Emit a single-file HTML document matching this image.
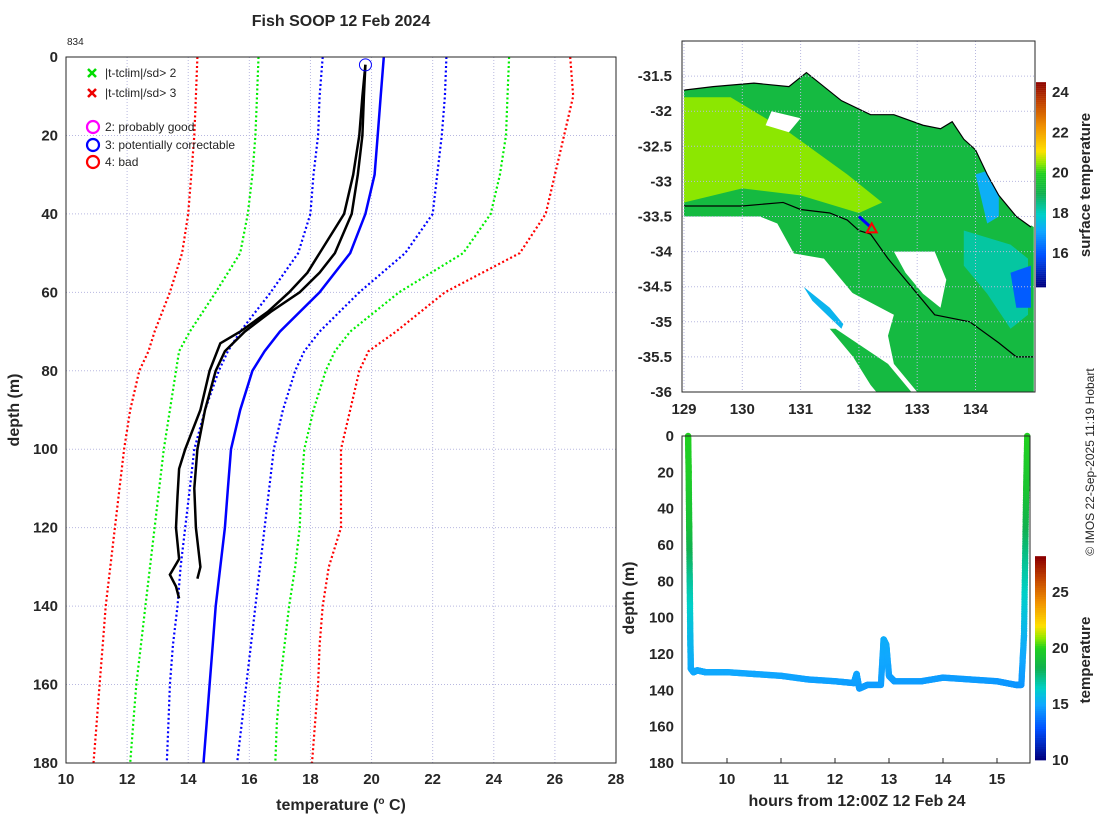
<!DOCTYPE html>
<html><head><meta charset="utf-8"><style>
body{margin:0;background:#fff}
svg text{font-family:"Liberation Sans",sans-serif;fill:#262626}
.b{font-weight:bold;font-size:15px}
</style></head><body>
<svg id="s" width="1100" height="820" xmlns="http://www.w3.org/2000/svg">
<rect width="1100" height="820" fill="#fff"/>
<text x="341" y="26" text-anchor="middle" font-weight="bold" font-size="16">Fish SOOP 12 Feb 2024</text>
<text x="67" y="45" font-size="10">834</text>
<g id="main"></g>
<g id="map"></g>
<g id="sect"></g>
<text transform="translate(1094,462) rotate(-90)" text-anchor="middle" font-size="12">© IMOS 22-Sep-2025 11:19 Hobart</text>
</svg>
<script>
const depths=[0,10,20,30,40,50,60,70,75,80,90,100,110,120,130,140,150,160,170,180];
const red3L=[14.3,14.25,14.2,14.1,14.0,13.8,13.4,12.9,12.7,12.4,12.1,11.9,11.75,11.6,11.45,11.3,11.2,11.1,11.0,10.9];
const grn2L=[16.3,16.25,16.2,16.1,15.95,15.7,14.9,14.05,13.7,13.6,13.4,13.2,13.05,12.9,12.75,12.6,12.45,12.3,12.2,12.1];
const blu1L=[18.4,18.3,18.25,18.1,18.0,17.6,16.7,15.7,15.3,15.0,14.55,14.2,14.05,13.9,13.75,13.65,13.5,13.4,13.35,13.3];
const meanT=[20.4,20.3,20.2,20.1,19.8,19.3,18.3,17.0,16.5,16.1,15.7,15.4,15.3,15.2,15.05,14.9,14.8,14.7,14.6,14.5];
const blu1R=[22.45,22.4,22.3,22.15,22.0,21.1,19.6,18.3,17.8,17.5,17.1,16.8,16.65,16.5,16.35,16.2,16.05,15.9,15.75,15.6];
const grn2R=[24.5,24.45,24.4,24.2,23.9,23.0,20.9,19.3,18.8,18.5,18.1,17.8,17.7,17.65,17.5,17.3,17.15,17.0,16.9,16.85];
const red3R=[26.5,26.6,26.3,26.0,25.7,24.85,22.4,20.8,19.9,19.6,19.3,19.0,19.0,19.0,18.6,18.4,18.3,18.25,18.15,18.05];
const castDownD=[2,10,20,30,40,50,55,60,65,70,75,80,90,100,110,120,130,133];
const castDownT=[19.8,19.75,19.7,19.55,19.35,18.8,18.3,17.65,16.7,15.85,15.2,14.9,14.55,14.3,14.2,14.25,14.4,14.3];
const castUpD=[2,10,20,30,40,50,55,60,65,70,73,80,90,100,105,112,120,128,132,135,138];
const castUpT=[19.8,19.7,19.6,19.4,19.1,18.3,17.9,17.3,16.6,15.7,15.05,14.7,14.4,13.9,13.7,13.65,13.6,13.7,13.4,13.6,13.7];
const xTicks=[10,12,14,16,18,20,22,24,26,28];
const yTicks=[0,20,40,60,80,100,120,140,160,180];
const NS='http://www.w3.org/2000/svg';
function mk(p,t,a){const e=document.createElementNS(NS,t);for(const k in a)e.setAttribute(k,a[k]);p.appendChild(e);return e;}
const X=t=>66+(t-10)*550/18, Y=d=>57+d*706/180;
const M=document.getElementById('main');
xTicks.forEach((t,i)=>{if(i>0&&i<xTicks.length-1){const g=mk(M,'line',{x1:X(t),x2:X(t),y1:57,y2:763,stroke:'#b8b8e0','stroke-dasharray':'1,2','stroke-width':1});}
 const l=mk(M,'text',{x:X(t),y:784,'text-anchor':'middle',class:'b'});l.textContent=t;});
yTicks.forEach((d,i)=>{if(i>0&&i<yTicks.length-1){const g=mk(M,'line',{x1:66,x2:616,y1:Y(d),y2:Y(d),stroke:'#b8b8e0','stroke-dasharray':'1,2','stroke-width':1});}
 const l=mk(M,'text',{x:58,y:Y(d)+5,'text-anchor':'end',class:'b'});l.textContent=d;});
function line(p,ts,ds,st,name){const pts=ts.map((t,i)=>X(t).toFixed(1)+','+Y(ds[i]).toFixed(1)).join(' ');const e=mk(p,'polyline',Object.assign({points:pts,fill:'none'},st));}
const dot={'stroke-width':2.2,'stroke-dasharray':'2,2.5'};
line(M,red3L,depths,Object.assign({stroke:'#f00'},dot),'clim-minus-3sd');
line(M,red3R,depths,Object.assign({stroke:'#f00'},dot),'clim-plus-3sd');
line(M,grn2L,depths,Object.assign({stroke:'#0e0'},dot),'clim-minus-2sd');
line(M,grn2R,depths,Object.assign({stroke:'#0e0'},dot),'clim-plus-2sd');
line(M,blu1L,depths,Object.assign({stroke:'#00f'},dot),'clim-minus-1sd');
line(M,blu1R,depths,Object.assign({stroke:'#00f'},dot),'clim-plus-1sd');
line(M,meanT,depths,{stroke:'#00f','stroke-width':2.5},'clim-mean');
line(M,castDownT,castDownD,{stroke:'#000','stroke-width':2.5},'profile-down');
line(M,castUpT,castUpD,{stroke:'#000','stroke-width':2.5},'profile-up');
{const c=mk(M,'circle',{cx:X(19.8),cy:Y(2),r:6,fill:'none',stroke:'#00f','stroke-width':1});}
{const r=mk(M,'rect',{x:66,y:57,width:550,height:706,fill:'none',stroke:'#262626'});}
const leg=[['x','#0d0','|t-tclim|/sd> 2',73],['x','#e00','|t-tclim|/sd> 3',93],['o','#f0f','2: probably good',127],['o','#00f','3: potentially correctable',145],['o','#f00','4: bad',162]];
leg.forEach(L=>{const g=mk(M,'g',{});
 if(L[0]=='x'){mk(g,'path',{d:`M88,${L[3]-4}l8,8m0,-8l-8,8`,stroke:L[1],'stroke-width':2.5});}
 else mk(g,'circle',{cx:93,cy:L[3],r:6,fill:'none',stroke:L[1],'stroke-width':2.2});
 const t=mk(g,'text',{x:105,y:L[3]+4,'font-size':12});t.textContent=L[2];});
{const t=mk(M,'text',{x:341,y:810,'text-anchor':'middle','font-weight':'bold','font-size':16});t.innerHTML='temperature (<tspan font-size="10" dy="-6">o</tspan><tspan dy="6"> C)</tspan>';}
{const t=mk(M,'text',{transform:'translate(19,410) rotate(-90)','text-anchor':'middle','font-weight':'bold','font-size':16});t.textContent='depth (m)';}

const cmS=[0,0.15,0.27,0.35,0.45,0.55,0.6,0.66,0.78,0.9,1];
const cmC=[[0,0,128],[0,80,255],[16,168,255],[0,208,200],[16,176,80],[32,208,32],[144,232,0],[255,224,0],[240,144,0],[192,64,0],[139,0,0]];
function jet(v){v=Math.max(0,Math.min(1,v));let i=0;while(i<cmS.length-2&&v>cmS[i+1])i++;const f=(v-cmS[i])/(cmS[i+1]-cmS[i]);const c=cmC[i].map((a,k)=>Math.round(a+(cmC[i+1][k]-a)*f));return `rgb(${c[0]},${c[1]},${c[2]})`;}

// MAP
const lonTicks=[129,130,131,132,133,134];
const latTicks=[-31.5,-32,-32.5,-33,-33.5,-34,-34.5,-35,-35.5,-36];
const coastLon=[129,129.5,130.2,130.8,131.1,131.7,132.2,132.6,133.1,133.4,133.6,133.8,134.0,134.2,134.4,134.7,134.95];
const coastLat=[-31.7,-31.65,-31.6,-31.65,-31.45,-31.85,-32.05,-32.05,-32.2,-32.25,-32.15,-32.4,-32.55,-32.9,-33.2,-33.5,-33.65];
const shelfLon=[129,130,130.7,131.0,131.5,131.8,132.0,132.2,132.5,132.9,133.3,133.9,134.4,134.7,135];
const shelfLat=[-33.35,-33.35,-33.3,-33.4,-33.45,-33.55,-33.7,-33.75,-34.1,-34.5,-34.9,-35.0,-35.3,-35.5,-35.5];
const sstZones=[
 {t:19.2,lon:[129,129.5,130.2,130.8,131.1,131.7,132.2,132.6,133.1,133.4,133.6,133.8,134.0,134.2,134.4,134.7,135,135,134.5,133.9,133.0,132.6,132.5,132.6,131.0,130.6,130.3,129],lat:[-31.7,-31.65,-31.6,-31.65,-31.45,-31.85,-32.05,-32.05,-32.2,-32.25,-32.15,-32.4,-32.55,-32.9,-33.2,-33.5,-33.65,-36,-36,-36,-36,-35.6,-35.2,-34.9,-34.2,-33.6,-33.5,-33.5]},
 {t:20.4,lon:[129,129.8,130.8,131.8,132.4,132.0,131.0,130.0,129],lat:[-31.8,-31.8,-32.3,-32.9,-33.3,-33.45,-33.2,-33.1,-33.3]},
 {t:18.2,lon:[133.8,134.6,134.9,134.9,134.6,134.2,133.8],lat:[-33.7,-33.9,-34.1,-34.9,-35.1,-34.6,-34.2]},
 {t:17.2,lon:[134.0,134.4,134.4,134.2],lat:[-32.9,-32.8,-33.5,-33.6]},
 {t:16.0,lon:[134.6,134.95,134.95,134.7],lat:[-34.3,-34.2,-34.8,-34.8]},
 {t:17.3,lon:[130.9,131.3,131.8,131.7,131.2],lat:[-34.3,-34.3,-34.9,-35.1,-34.7]},
 {t:19.2,lon:[131.0,131.6,132.5,132.9,132.7,132.3],lat:[-35.1,-35.1,-35.6,-36,-36,-36]}];
const white=[
 {lon:[129,130.3,130.6,130.9,131.3,131.9,132.2,132.3,129],lat:[-33.5,-33.5,-33.9,-34.4,-34.9,-35.5,-35.9,-36,-36]},
 {lon:[130.7,131.4,132.2,132.4,131.9,131.5,130.9],lat:[-34.0,-34.1,-34.9,-35.3,-35.2,-34.8,-34.4]},
 {lon:[132.6,133.3,133.5,133.4,133.1,132.8],lat:[-34.0,-34.0,-34.4,-34.8,-34.6,-34.3]},
 {lon:[130.5,131.0,130.8,130.4],lat:[-32.0,-32.1,-32.3,-32.2]}];
const LX=l=>684+(l-129)*58.3, LY=a=>41+(-31-a)*70.2;
const G=document.getElementById('map');
function poly(p,lons,lats,st,name){const pts=lons.map((l,i)=>LX(l).toFixed(1)+','+LY(lats[i]).toFixed(1)).join(' ');const e=mk(p,'polygon',Object.assign({points:pts},st));return e;}
const SMIN=14.3,SMAX=24.5;
const clip=mk(G,'clipPath',{id:'mc'});mk(clip,'rect',{x:682,y:41,width:353,height:351});
const MG=mk(G,'g',{'clip-path':'url(#mc)'});
sstZones.forEach(z=>poly(MG,z.lon,z.lat,{fill:jet((z.t-SMIN)/(SMAX-SMIN))},'sst-patch'));
white.forEach(z=>poly(MG,z.lon,z.lat,{fill:'#fff'},'no-data-patch'));
{const l=coastLon.concat([135,129]),a=coastLat.concat([-31,-31]);poly(MG,l,a,{fill:'#fff'},'land');}
lonTicks.forEach(l=>{mk(G,'line',{x1:LX(l),x2:LX(l),y1:41,y2:392,stroke:'#b8b8e0','stroke-dasharray':'1,2'});const t=mk(G,'text',{x:LX(l),y:414,'text-anchor':'middle',class:'b'});t.textContent=l;});
latTicks.forEach(a=>{mk(G,'line',{x1:682,x2:1035,y1:LY(a),y2:LY(a),stroke:'#b8b8e0','stroke-dasharray':'1,2'});const t=mk(G,'text',{x:672,y:LY(a)+5,'text-anchor':'end',class:'b'});t.textContent=a;});
{const pts=coastLon.map((l,i)=>LX(l)+','+LY(coastLat[i])).join(' ');const e=mk(MG,'polyline',{points:pts,fill:'none',stroke:'#000','stroke-width':1.2});}
{const pts=shelfLon.map((l,i)=>LX(l)+','+LY(shelfLat[i])).join(' ');const e=mk(MG,'polyline',{points:pts,fill:'none',stroke:'#000','stroke-width':1.2});}
{const e=mk(G,'line',{x1:LX(132.0),y1:LY(-33.5),x2:LX(132.2),y2:LY(-33.65),stroke:'#00f','stroke-width':3});
 const x=LX(132.22),y=LY(-33.67);const p=mk(G,'polygon',{points:`${x-5},${y+4} ${x+5},${y+4} ${x},${y-5}`,fill:'none',stroke:'#f00','stroke-width':2});}
{const r=mk(G,'rect',{x:682,y:41,width:353,height:351,fill:'none',stroke:'#262626'});}
const sstCbTicks=[16,18,20,22,24];
const CY=v=>253-(v-16)*20.1;
for(let v=SMIN;v<SMAX;v+=0.1){mk(G,'rect',{x:1036,y:CY(v+0.1),width:10,height:2.2,fill:jet((v-SMIN)/(SMAX-SMIN))});}
sstCbTicks.forEach(v=>{const t=mk(G,'text',{x:1052,y:CY(v)+5,class:'b'});t.textContent=v;});
{const t=mk(G,'text',{transform:'translate(1090,185) rotate(-90)','text-anchor':'middle','font-weight':'bold','font-size':15});t.textContent='surface temperature';}

// SECTION
const hrs=[9.28,9.29,9.3,9.31,9.32,9.33,9.38,9.45,9.6,10.0,10.5,11.0,11.5,12.0,12.35,12.4,12.45,12.6,12.85,12.9,12.95,13.0,13.1,13.6,14.0,14.5,15.0,15.35,15.45,15.5,15.52,15.54,15.56];
const hdep=[0,20,50,80,110,128,130,129,130,130,131,132,134,135,136,131,139,137,137,112,115,132,135,135,133,134,135,137,137,110,70,30,0];
const htemp=[19.9,19.7,19.0,17.0,15.5,15.0,14.9,14.9,14.9,14.9,14.8,14.8,14.7,14.7,14.6,14.8,14.6,14.6,14.6,15.0,15.0,14.7,14.6,14.6,14.6,14.6,14.5,14.4,14.4,15.2,17.0,19.2,19.9];
const hTicks=[10,11,12,13,14,15];
const dTicks=[0,20,40,60,80,100,120,140,160,180];
const HX=h=>727+(h-10)*54, HY=d=>436+d*327/180;
const S=document.getElementById('sect');
const TMIN=10,TMAX=28;
hTicks.forEach(h=>{mk(S,'line',{x1:HX(h),x2:HX(h),y1:763,y2:758,stroke:'#262626'});const t=mk(S,'text',{x:HX(h),y:784,'text-anchor':'middle',class:'b'});t.textContent=h;});
dTicks.forEach(d=>{const t=mk(S,'text',{x:674,y:HY(d)+5,'text-anchor':'end',class:'b'});t.textContent=d;});
for(let i=0;i<hrs.length-1;i++){const n=30;for(let k=0;k<=n;k++){const f=k/n;const h=hrs[i]+(hrs[i+1]-hrs[i])*f,d=hdep[i]+(hdep[i+1]-hdep[i])*f,t=htemp[i]+(htemp[i+1]-htemp[i])*f;
 const c=mk(S,'circle',{cx:HX(h).toFixed(1),cy:HY(d).toFixed(1),r:3.2,fill:jet((t-TMIN)/(TMAX-TMIN))});}}
{const r=mk(S,'rect',{x:682,y:436,width:348,height:327,fill:'none',stroke:'#262626'});}
const tCbTicks=[10,15,20,25];
const TY=v=>760-(v-10)*11.2;
for(let v=TMIN;v<TMAX;v+=0.2){mk(S,'rect',{x:1035,y:TY(v+0.2),width:11,height:2.6,fill:jet((v-TMIN)/(TMAX-TMIN))});}
tCbTicks.forEach(v=>{const t=mk(S,'text',{x:1052,y:TY(v)+5,class:'b','font-size':14});t.textContent=v;});
{const t=mk(S,'text',{transform:'translate(1090,660) rotate(-90)','text-anchor':'middle','font-weight':'bold','font-size':15});t.textContent='temperature';}
{const t=mk(S,'text',{x:857,y:806,'text-anchor':'middle','font-weight':'bold','font-size':16});t.textContent='hours from 12:00Z 12 Feb 24';}
{const t=mk(S,'text',{transform:'translate(634,598) rotate(-90)','text-anchor':'middle','font-weight':'bold','font-size':16});t.textContent='depth (m)';}
</script>
</body></html>
